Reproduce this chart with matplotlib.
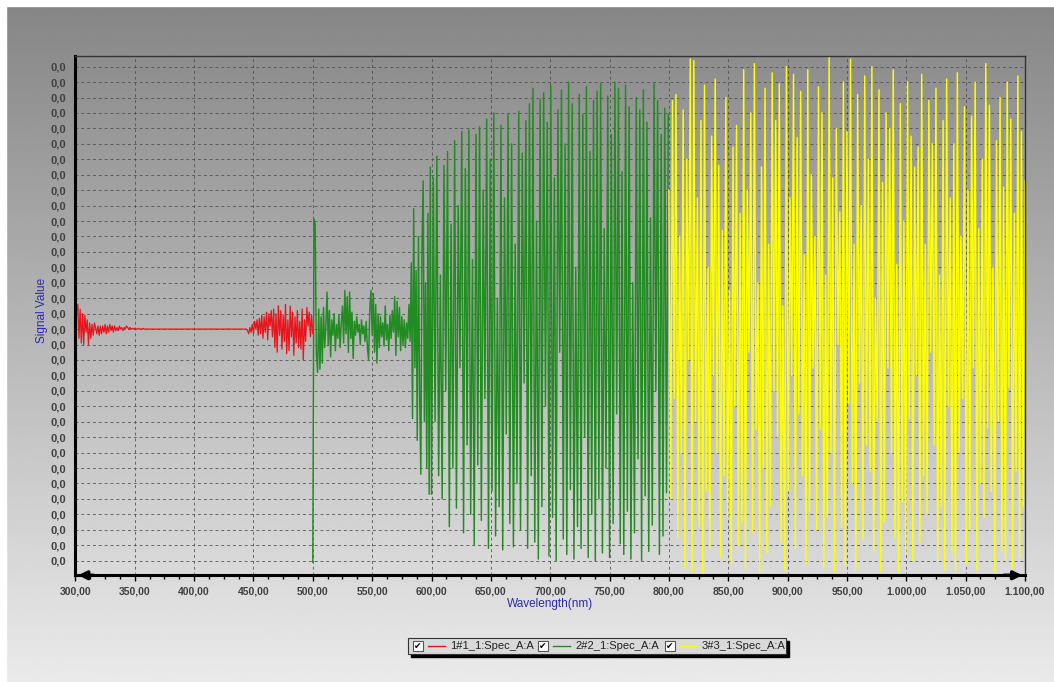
import numpy as np
import matplotlib.pyplot as plt
from matplotlib.patches import Rectangle
from matplotlib.ticker import MultipleLocator, FuncFormatter

W, H = 1054, 682

# wavelength grid of each spectrum (nm)
red_nm = np.arange(300, 501)
green_nm = np.concatenate([np.arange(500, 600), np.arange(600, 800, 1.5)])
yellow_nm = np.arange(800, 1100.1, 1.5)

# signal values, in units of 1e-3 (one grid step)
red_sig = [
    -2.1, 1.2, 1.6, -0.6, 1.3, -0.9, 1.0, -1.0, 0.9, -0.2,
    0.6, -1.0, 0.4, -0.6, 0.3, -0.4, 0.4, 0.1, -0.3, 0.2,
    -0.4, 0.2, -0.3, 0.2, -0.2, 0.3, -0.3, 0.2, -0.2, 0.3,
    -0.1, 0.2, -0.2, 0.2, -0.1, 0.1, -0.1, 0.2, 0.0, 0.1,
    -0.1, 0.1, 0.0, 0.2, 0.1, 0.0, 0.1, 0.0, 0.05, 0.0,
    0.05, 0.0, 0.0, 0.05, 0.0, 0.0, 0.0, 0.05, 0.0, 0.0,
    0.0, 0.0, 0.0, 0.0, 0.0, 0.0, 0.0, 0.0, 0.0, 0.0,
    0.0, 0.0, 0.0, 0.0, 0.0, 0.0, 0.0, 0.0, 0.0, 0.0,
    0.0, 0.0, 0.0, 0.0, 0.0, 0.0, 0.0, 0.0, 0.0, 0.0,
    0.0, 0.0, 0.0, 0.0, 0.0, 0.0, 0.0, 0.0, 0.0, 0.0,
    0.0, 0.0, 0.0, 0.0, 0.0, 0.0, 0.0, 0.0, 0.0, 0.0,
    0.0, 0.0, 0.0, 0.0, 0.0, 0.0, 0.0, 0.0, 0.0, 0.0,
    0.0, 0.0, 0.0, 0.0, 0.0, 0.0, 0.0, 0.0, 0.0, 0.0,
    0.0, 0.0, 0.0, 0.0, 0.0, 0.0, 0.0, 0.0, 0.0, 0.0,
    0.0, 0.0, 0.0, 0.0, 0.0, -0.1, -0.3, 0.1, -0.2, 0.3,
    -0.3, 0.5, 0.0, 0.6, -0.4, 0.7, -0.3, 0.9, -0.6, 0.8,
    -0.2, 1.1, -0.7, 1.0, 0.2, 1.2, -0.5, 1.3, -1.2, 1.0,
    -1.5, 1.5, -0.4, 1.2, -1.3, 0.9, -0.8, 1.6, -1.6, 0.6,
    -1.4, 1.5, -0.5, 1.1, -1.7, 0.8, -0.9, 1.2, -1.2, 0.5,
    -1.3, 1.3, -2.0, 0.6, -0.8, 1.4, 0.2, 1.1, -0.5, 0.9,
    -0.3,
]

green_sig = [
    # 500 - 599 nm, 1 nm steps
    -15.1, 7.1, 6.8, -1.6, -2.8, 1.3, -2.6, 0.8, -2.2, 1.4,
    -1.2, 0.2, 2.4, -1.0, 1.2, -1.8, 0.6, -0.4, 1.0, -1.4,
    0.3, -0.6, 0.9, -1.2, 0.4, 1.5, -0.9, 2.5, -0.3, 2.1,
    -1.5, 2.4, -0.6, 1.1, -1.9, 0.5, -0.4, 0.8, -0.2, 0.3,
    -1.0, 0.6, -0.3, 0.2, -0.8, 0.5, -1.2, -2.0, 1.2, 2.5,
    -0.4, 2.3, -1.5, 1.6, -2.2, 1.0, -1.2, 0.8, -0.5, 0.4,
    -1.1, 1.5, -0.7, 0.3, -1.4, 0.9, -0.6, 1.2, -0.2, 2.1,
    -1.7, 1.8, -0.5, 1.4, -1.4, 0.8, -1.0, 0.6, -1.2, 0.4,
    -0.6, 1.6, -0.8, 4.3, -5.8, 7.8, -2.5, 3.8, -7.2, 6.0,
    -4.0, -9.4, 5.5, 9.6, -6.0, 3.0, -9.0, 7.5, -10.7, 10.5,
    # 600 - 799.5 nm, 1.5 nm steps
    -10.7, 9.8, -6.0, 11.2, -9.5, 3.5, -11.0, 10.6, -4.0, 11.5,
    -12.8, 6.8, -9.0, 12.2, -11.6, 8.0, -2.5, 12.8, -13.2, 10.4,
    -7.5, 12.9, -12.0, 4.5, -14.0, 12.6, -8.8, 13.1, -12.4, 9.0,
    -4.5, 13.6, -14.2, 11.0, -10.5, 14.0, -13.4, 2.0, -11.5, 13.2,
    -14.3, 8.5, -6.8, 13.9, -12.6, 12.0, -14.1, 5.5, -10.0, 14.1,
    -13.0, 11.4, -3.5, 13.5, -14.2, 14.6, -9.5, 15.6, -13.8, 7.0,
    -14.9, 14.9, -11.5, 15.3, -5.0, 13.4, -14.7, 15.8, -12.2, 9.8,
    -15.0, 14.2, -1.5, 15.5, -13.6, 12.0, -14.6, 16.0, -10.4, 14.6,
    -14.9, 4.0, -12.8, 15.2, -14.2, 13.9, -7.0, 15.7, -14.8, 11.5,
    -12.0, 14.8, -15.0, 15.4, -11.0, 15.9, -14.5, 6.5, -9.0, 15.1,
    -14.8, 12.6, -12.6, 16.0, -5.5, 15.6, -13.9, 10.2, -14.6, 15.8,
    -11.8, 14.4, -14.9, 3.0, -13.2, 15.0, -8.4, 14.2, -15.0, 15.5,
    -10.8, 13.4, -14.4, 7.2, -12.7, 15.9, -4.0, 14.8, -14.6, 12.6,
    -13.4, 14.3, -10.6, 13.9,
]

yellow_sig = [
    9.0, -11.0, 14.8, -4.5, 15.2, -13.5, 6.0, -8.0, 14.2, -15.5,
    11.0, -2.0, 17.5, -15.8, 17.4, -6.0, 8.5, -12.8, 13.5, -15.9,
    15.8, -10.5, 4.0, -14.2, 12.5, -3.0, 16.2, -8.0, 10.6, -14.8,
    6.4, -9.5, 15.0, -12.2, 2.5, -15.2, 11.8, -5.0, 13.2, -14.0,
    7.5, -12.5, 16.8, -15.5, 9.0, -1.5, 14.0, -13.2, 17.2, -6.5,
    3.0, -15.8, 10.5, -9.0, 15.6, -14.5, 5.5, -11.5, 16.6, -4.0,
    13.5, -7.0, 15.9, -13.8, 1.5, -15.6, 17.0, -10.5, 8.5, -3.0,
    16.5, -14.2, 12.4, -5.5, 15.4, -9.5, 4.8, -15.2, 16.8, -11.8,
    10.0, -2.5, 6.0, -13.0, 15.7, -6.5, 14.0, -15.5, 3.5, -12.2,
    17.6, -8.0, 9.8, -15.8, 13.0, -1.0, 7.6, -12.8, 16.0, -15.3,
    12.8, -4.8, 17.5, -10.0, 5.5, -15.6, 15.2, -3.5, 8.0, -13.6,
    16.4, -7.5, 11.0, -9.2, 17.0, -14.4, 2.0, -6.0, 15.5, -15.7,
    9.5, -12.5, 14.0, -2.5, 13.0, -8.0, 16.8, -13.5, 4.2, -15.8,
    14.6, -11.2, 7.0, -14.6, 16.0, -5.8, 12.5, -15.0, 10.5, -3.0,
    11.8, -13.8, 16.5, -9.5, 5.5, -12.0, 14.8, -1.5, 12.0, -7.5,
    15.6, -15.0, 3.5, -11.5, 13.5, -15.6, 16.2, -5.0, 8.5, -14.5,
    12.0, -15.8, 16.6, -8.0, 6.0, -4.5, 14.4, -15.2, 9.0, -13.0,
    13.8, -2.5, 16.0, -15.6, 6.5, -10.0, 11.0, -12.2, 17.2, -6.4,
    14.5, -10.5, 4.0, -15.8, 12.2, -6.0, 15.0, -14.4, 9.2, -15.0,
    16.0, -3.8, 13.6, -15.5, 7.5, -9.2, 16.4, -14.8, 12.8, -11.5,
    9.6,
]

series_names = ['1#1_1:Spec_A:A', '2#2_1:Spec_A:A', '3#3_1:Spec_A:A']
series_colors = ['#e8141c', '#228b22', '#ffff00']
series_widths = [0.9, 1.05, 1.05]

x_ticks = np.arange(300, 1101, 50)
y_ticks = np.arange(-15, 18)

plt.rcParams['font.family'] = ['Liberation Sans', 'DejaVu Sans']

fig = plt.figure(figsize=(W / 100, H / 100), dpi=100)


def fx(x):
    return x / W


def fy(y):
    return 1 - y / H


# grey gradient background with white strips top/left
bg = fig.add_axes([0, 0, 1, 1], zorder=-10)
shade = np.linspace(134, 234, 256)[:, None] / 255
bg.imshow(np.repeat(shade, 2, axis=1), cmap='gray', vmin=0, vmax=1,
          aspect='auto', extent=[0, W, H, 6], interpolation='bilinear')
bg.add_patch(Rectangle((0, 0), W, 6, color='white'))
bg.add_patch(Rectangle((0, 0), 6, H, color='white'))
bg.set_xlim(0, W)
bg.set_ylim(H, 0)
bg.axis('off')

ax = fig.add_axes([fx(75.4), fy(575.3), fx(1025 - 75.4), (575.3 - 55.7) / H])
ax.set_facecolor('none')

for nm, sig, col, lw in zip([red_nm, green_nm, yellow_nm],
                            [red_sig, green_sig, yellow_sig],
                            series_colors, series_widths):
    ax.plot(nm, sig, color=col, lw=lw)

ax.set_xlim(300, 1100)
ax.set_ylim(-15.95, 17.71)
ax.set_xticks(x_ticks)
ax.set_yticks(y_ticks)
ax.xaxis.set_minor_locator(MultipleLocator(12.5))
ax.set_axisbelow(True)
ax.grid(True, which='major', color='#4a4a4a', lw=0.7, ls=(0, (3, 3)), alpha=0.8)


def nm_fmt(v, pos):
    s = f"{v:,.2f}"
    return s.replace(',', 'X').replace('.', ',').replace('X', '.')


def sig_fmt(v, pos):
    return f"{round(v / 1000, 1) + 0.0:.1f}".replace('.', ',')


ax.xaxis.set_major_formatter(FuncFormatter(nm_fmt))
ax.yaxis.set_major_formatter(FuncFormatter(sig_fmt))
ax.tick_params(axis='x', which='major', length=4, width=1, pad=4,
               labelsize=7.5, labelcolor='#404040')
ax.tick_params(axis='x', which='minor', length=3, width=1)
ax.tick_params(axis='y', length=0, pad=7, labelsize=8, labelcolor='#404040')
for lab in ax.get_xticklabels() + ax.get_yticklabels():
    lab.set_fontweight('bold')

for side in ['left', 'bottom']:
    ax.spines[side].set_linewidth(2.2)
    ax.spines[side].set_color('black')
for side in ['top', 'right']:
    ax.spines[side].set_linewidth(1)
    ax.spines[side].set_color('#333333')

arrow = dict(arrowstyle='-|>', color='black', lw=2.5, mutation_scale=12)
ax.annotate('', xy=(0.0, 0), xytext=(0.022, 0), xycoords='axes fraction',
            arrowprops=arrow, annotation_clip=False)
ax.annotate('', xy=(1.0, 0), xytext=(0.975, 0), xycoords='axes fraction',
            arrowprops=arrow, annotation_clip=False)

fig.text(fx(42), fy(310), 'Signal Value', rotation=90, color='#2b2ba8',
         fontsize=8.5, ha='center', va='center')
fig.text(fx(550), fy(604), 'Wavelength(nm)', color='#2b2ba8',
         fontsize=8.5, ha='center', va='center')

# legend box with check boxes
fig.add_artist(Rectangle((fx(411), fy(657)), fx(378), 16 / H,
                         transform=fig.transFigure, color='black'))
fig.add_artist(Rectangle((fx(408), fy(654)), fx(378), 16 / H,
                         transform=fig.transFigure, facecolor='#d9d9d9',
                         edgecolor='#333333', lw=0.8))
entry_x = [413, 538, 665]
for x0, name, col in zip(entry_x, series_names, series_colors):
    fig.add_artist(Rectangle((fx(x0), fy(651)), fx(10), 10 / H,
                             transform=fig.transFigure, facecolor='white',
                             edgecolor='#555555', lw=0.8))
    fig.text(fx(x0 + 5), fy(646), '\u2714', family='DejaVu Sans',
             fontsize=6.5, ha='center', va='center', color='black')
    fig.add_artist(plt.Line2D([fx(x0 + 15), fx(x0 + 32)], [fy(646)] * 2,
                              transform=fig.transFigure, color=col, lw=1))
    fig.text(fx(x0 + 37), fy(646), name, fontsize=8, ha='left',
             va='center', color='#222222')

fig.savefig('out.png', dpi=100)
